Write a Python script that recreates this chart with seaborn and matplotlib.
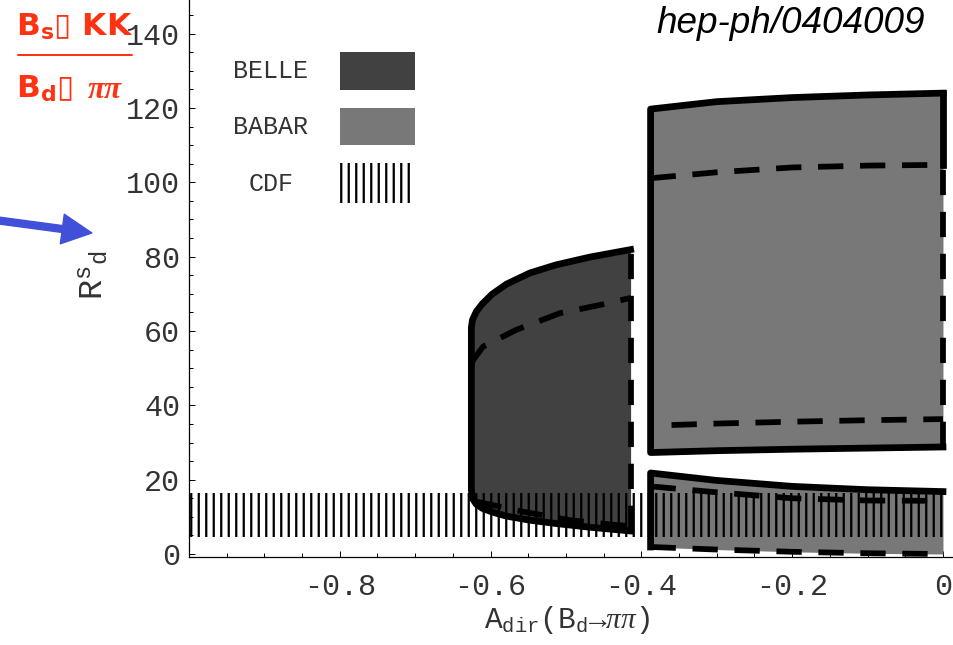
import numpy as np
import pandas as pd
import matplotlib
matplotlib.use("Agg")
import matplotlib.pyplot as plt
from matplotlib.patches import Rectangle
from matplotlib.lines import Line2D
from matplotlib.ticker import FixedLocator, FixedFormatter, MultipleLocator
import seaborn as sns

# ---------------- data ----------------
# BELLE allowed region (A_dir, R^s_d)
belle_x = [-0.6255, -0.624, -0.619, -0.611, -0.598, -0.579, -0.548, -0.513, -0.468, -0.4143]
belle_upper = [61.0, 63.0, 65.2, 67.3, 69.9, 72.6, 75.6, 77.8, 79.9, 81.9]
belle_lower = [17.2, 14.9, 13.4, 12.3, 11.3, 10.2, 9.1, 8.2, 7.2, 6.2]
belle_dash_hi_x = [-0.6255, -0.623, -0.610, -0.566, -0.508, -0.455, -0.4143]
belle_dash_hi = [50.8, 52.2, 55.8, 60.3, 64.8, 67.0, 68.9]
belle_dash_lo_x = [-0.6187, -0.5568, -0.4948, -0.4329, -0.4143]
belle_dash_lo = [14.1, 11.4, 9.1, 7.8, 7.5]

# BABAR allowed regions
babar_x = [-0.3878, -0.3, -0.2, -0.1, 0.0]
babar_hi_upper = [119.7, 121.7, 122.8, 123.5, 124.0]
babar_hi_lower = [27.3, 27.8, 28.2, 28.5, 28.8]
babar_hi_dash_hi = [101.1, 102.7, 104.0, 104.5, 104.7]
babar_hi_dash_lo_x = [-0.36, -0.3, -0.2, -0.1, 0.0]
babar_hi_dash_lo = [34.7, 35.1, 35.6, 36.0, 36.3]
babar_lo_upper = [21.8, 19.8, 18.2, 17.3, 16.8]
babar_lo_lower = [1.9, 1.2, 0.6, 0.2, 0.0]
babar_lo_dash_hi = [18.2, 16.6, 15.0, 14.4, 14.3]

# CDF band
cdf_x = [-1.0, 0.0]
cdf_lower = [4.7, 4.7]
cdf_upper = [16.5, 16.5]

# axes ticks
x_ticks = [-0.8, -0.6, -0.4, -0.2, 0.0]
x_tick_labels = ["-0.8", "-0.6", "-0.4", "-0.2", "0"]
y_ticks = [0, 20, 40, 60, 80, 100, 120, 140]
y_tick_labels = ["0", "20", "40", "60", "80", "100", "120", "140"]

legend_labels = ["BELLE", "BABAR", "CDF"]

# ---------------- style ----------------
sns.set_theme(style="ticks")
mono = ["Liberation Mono", "DejaVu Sans"]
plt.rcParams["font.family"] = mono
plt.rcParams["mathtext.fontset"] = "custom"
plt.rcParams["mathtext.rm"] = "Liberation Mono"
plt.rcParams["mathtext.it"] = "Liberation Serif:italic"
plt.rcParams["mathtext.bf"] = "DejaVu Sans:bold"
plt.rcParams["hatch.linewidth"] = 1.8

BELLE_C = "#414141"
BABAR_C = "#787878"
TXT = "#333333"
DPI = 90

fig = plt.figure(figsize=(953 / DPI, 645 / DPI), dpi=DPI)
ax = fig.add_axes([189 / 953, 1 - 557 / 645, 764 / 953, 557 / 645])

SOLID = dict(color="black", lw=5.4, solid_joinstyle="round", solid_capstyle="projecting", zorder=3)
DASH = dict(color="black", lw=4.6, linestyle=(0, (4.4, 2.9)), dash_capstyle="butt", zorder=3)

# ---- BELLE ----
ax.fill_between(belle_x, belle_lower, belle_upper, color=BELLE_C, lw=0, zorder=2)
ax.plot(belle_x[::-1] + belle_x, belle_upper[::-1] + belle_lower, **SOLID)
ax.plot([belle_x[-1], belle_x[-1]], [belle_lower[-1], belle_upper[-1]], **DASH)
df = pd.DataFrame({"x": belle_dash_hi_x, "y": belle_dash_hi})
sns.lineplot(data=df, x="x", y="y", ax=ax, sort=False, estimator=None, **DASH)
df = pd.DataFrame({"x": belle_dash_lo_x, "y": belle_dash_lo})
sns.lineplot(data=df, x="x", y="y", ax=ax, sort=False, estimator=None, **DASH)

# ---- BABAR upper ----
ax.fill_between(babar_x, babar_hi_lower, babar_hi_upper, color=BABAR_C, lw=0, zorder=2)
ax.plot(babar_x[::-1] + babar_x, babar_hi_upper[::-1] + babar_hi_lower, **SOLID)
ax.plot([babar_x[-1], babar_x[-1]], [babar_hi_dash_hi[-1], babar_hi_upper[-1]], **SOLID)
ax.plot([babar_x[-1], babar_x[-1]], [babar_hi_lower[-1], babar_hi_dash_hi[-1]], **DASH)
df = pd.DataFrame({"x": babar_x, "y": babar_hi_dash_hi})
sns.lineplot(data=df, x="x", y="y", ax=ax, sort=False, estimator=None, **DASH)
df = pd.DataFrame({"x": babar_hi_dash_lo_x, "y": babar_hi_dash_lo})
sns.lineplot(data=df, x="x", y="y", ax=ax, sort=False, estimator=None, **DASH)

# ---- BABAR lower ----
ax.fill_between(babar_x, babar_lo_lower, babar_lo_upper, color=BABAR_C, lw=0, zorder=2)
ax.plot(babar_x[::-1] + babar_x[:1], babar_lo_upper[::-1] + babar_lo_lower[:1], **SOLID)
df = pd.DataFrame({"x": babar_x, "y": babar_lo_lower})
sns.lineplot(data=df, x="x", y="y", ax=ax, sort=False, estimator=None, **DASH)
df = pd.DataFrame({"x": babar_x, "y": babar_lo_dash_hi})
sns.lineplot(data=df, x="x", y="y", ax=ax, sort=False, estimator=None, **DASH)

# ---- CDF band (vertical hatching) ----
ax.fill_between(cdf_x, cdf_lower, cdf_upper, facecolor="none", edgecolor="black",
                lw=0, hatch="||", zorder=4)

# ---------------- axes ----------------
ax.set_xlim(-1.0, 0.0133)
ax.set_ylim(-0.8, 149.05)
sns.despine(ax=ax)
for s in ("left", "bottom"):
    ax.spines[s].set_linewidth(1.0)
    ax.spines[s].set_color("black")

ax.xaxis.set_major_locator(FixedLocator(x_ticks))
ax.xaxis.set_major_formatter(FixedFormatter(x_tick_labels))
ax.xaxis.set_minor_locator(MultipleLocator(0.05))
ax.yaxis.set_major_locator(FixedLocator(y_ticks))
ax.yaxis.set_major_formatter(FixedFormatter(y_tick_labels))
ax.yaxis.set_minor_locator(MultipleLocator(5))
ax.tick_params(which="major", direction="in", length=4.5, width=0.8, color="black",
               labelsize=24, labelcolor=TXT)
ax.tick_params(which="minor", direction="in", length=3, width=0.8, color="black")
ax.tick_params(axis="x", which="major", pad=13)
ax.tick_params(axis="y", which="major", pad=7)
ax.set_facecolor("white")

ax.set_xlabel(r"A$_{\rm dir}$(B$_{\rm d}$→$\mathit{\pi\pi}$)", fontsize=23.5, color=TXT)
ax.xaxis.set_label_coords(0.4948, -0.085)
ax.set_ylabel(r"R$^{\rm s}{}_{\rm d}$", fontsize=27, color=TXT)
ax.yaxis.set_label_coords(-0.103, 0.506)

# ---------------- legend ----------------
legend_rows = [
    dict(y0=0.8384, h=0.0682, fc=BELLE_C, hatch=None, ty=0.8725),
    dict(y0=0.7397, h=0.0664, fc=BABAR_C, hatch=None, ty=0.772),
    dict(y0=0.6355, h=0.0718, fc="none", hatch="||", ty=0.6697),
]
for lab, row in zip(legend_labels, legend_rows):
    if row["hatch"]:
        r = Rectangle((0.1976, row["y0"]), 0.0982, row["h"], transform=ax.transAxes,
                      facecolor="none", edgecolor="black", lw=0, hatch=row["hatch"], zorder=5)
    else:
        r = Rectangle((0.1976, row["y0"]), 0.0982, row["h"], transform=ax.transAxes,
                      facecolor=row["fc"], edgecolor="none", zorder=5)
    ax.add_patch(r)
    ax.text(0.1073, row["ty"], lab, transform=ax.transAxes, ha="center", va="center",
            fontsize=20, color=TXT)

# ---------------- annotations ----------------
RED = "#FF3311"
red_font = dict(family=["DejaVu Sans"], weight="bold", color=RED, fontsize=25)
fig.text(16 / 953, 1 - 36 / 645, r"B$_\mathbf{s}$▯ KK", ha="left", va="baseline", **red_font)
fig.text(16 / 953, 1 - 98 / 645, r"B$_\mathbf{d}$▯", ha="left", va="baseline", **red_font)
fig.text(88 / 953, 1 - 98 / 645, "ππ", ha="left", va="baseline", color=RED, fontsize=25,
         family=["Liberation Serif"], style="italic", weight="bold")
fig.add_artist(Line2D([18 / 953, 132 / 953], [1 - 55 / 645, 1 - 55 / 645],
                      transform=fig.transFigure, color=RED, lw=1.6))

fig.text(925 / 953, 1 - 33 / 645, "hep-ph/0404009", ha="right", va="baseline",
         family=["Liberation Sans"], style="italic", fontsize=29.5, color="black")

ax.annotate("", xy=(92 / 953, 1 - 233 / 645), xytext=(-5 / 953, 1 - 220 / 645),
            xycoords="figure fraction", textcoords="figure fraction",
            arrowprops=dict(color="#4050D8", width=5.6, headwidth=24, headlength=24, shrink=0),
            annotation_clip=False)

fig.savefig("out.png", dpi=DPI)
